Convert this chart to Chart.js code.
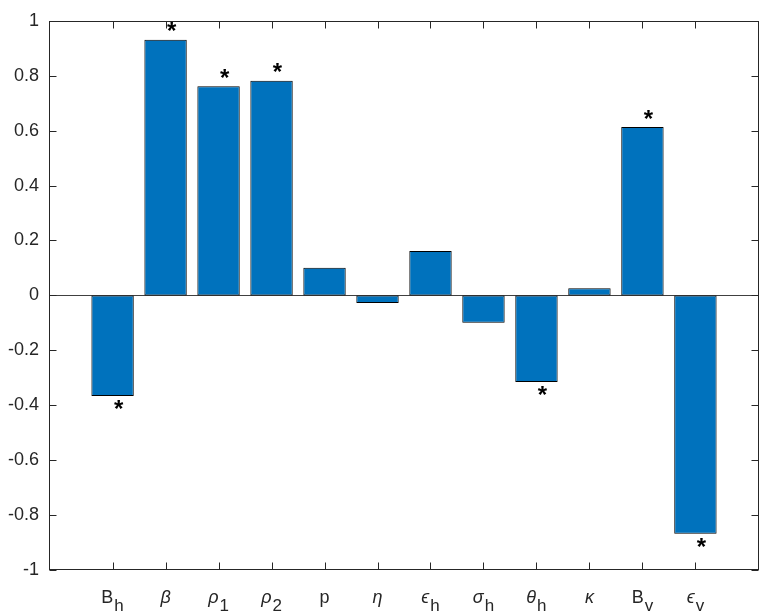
<!DOCTYPE html>
<html><head><meta charset="utf-8">
<script src="https://cdn.jsdelivr.net/npm/chart.js@4"></script>
<style>html,body{margin:0;padding:0;background:#fff}#wrap{width:762px;height:615px;position:relative}</style>
</head><body><div id="wrap"><canvas id="c"></canvas></div>
<script>
const labelMain = ['B','β','ρ','ρ','p','η','ϵ','σ','θ','κ','B','ϵ'];
const labelSub = ['h','','1','2','','','h','h','h','','v','v'];
const labelItalic = [false,true,true,true,false,true,true,true,true,true,false,true];
const values = [-0.366,0.931,0.762,0.782,0.101,-0.028,0.162,-0.100,-0.315,0.026,0.613,-0.868];
const significant = [true,true,true,true,false,false,false,false,true,false,true,true];
const yMin = -1, yMax = 1, yStep = 0.2;

const AX = '#262626';
const FONT = "'Liberation Sans', Arial, Helvetica, sans-serif";

const decor = {
  id: 'decor',
  beforeDatasetsDraw(chart) {
    const {ctx, chartArea: a, scales: {y}} = chart;
    const y0 = Math.round(y.getPixelForValue(0)) + 0.5;
    ctx.save();
    ctx.strokeStyle = '#404040';
    ctx.lineWidth = 1;
    ctx.beginPath(); ctx.moveTo(a.left, y0); ctx.lineTo(a.right, y0); ctx.stroke();
    ctx.restore();
  },
  afterDraw(chart) {
    const {ctx, chartArea: a, scales: {x, y}} = chart;
    ctx.save();
    const L = Math.round(a.left) + 0.5, R = Math.round(a.right) - 0.5;
    const T = Math.round(a.top) + 0.5, B = Math.round(a.bottom) - 0.5;
    ctx.strokeStyle = AX; ctx.lineWidth = 1;
    ctx.strokeRect(L, T, R - L, B - T);
    const tl = 7;
    ctx.beginPath();
    y.ticks.forEach(t => {
      const py = Math.round(y.getPixelForValue(t.value)) + 0.5;
      ctx.moveTo(L, py); ctx.lineTo(L + tl, py);
      ctx.moveTo(R, py); ctx.lineTo(R - tl, py);
    });
    labelMain.forEach((m, i) => {
      const px = Math.round(x.getPixelForValue(i + 1)) + 0.5;
      ctx.moveTo(px, B); ctx.lineTo(px, B - tl);
      ctx.moveTo(px, T); ctx.lineTo(px, T + tl);
    });
    ctx.stroke();

    // x labels with subscripts
    ctx.fillStyle = AX;
    ctx.textBaseline = 'alphabetic';
    ctx.textAlign = 'left';
    const mainY = 603, subY = 611;
    labelMain.forEach((m, i) => {
      const px = x.getPixelForValue(i + 1);
      const fMain = (labelItalic[i] ? 'italic ' : '') + '18px ' + FONT;
      const fSub = '17px ' + FONT;
      ctx.font = fMain; const wm = ctx.measureText(m).width;
      ctx.font = fSub; const ws = labelSub[i] ? ctx.measureText(labelSub[i]).width + 1 : 0;
      const sx = px - (wm + ws) / 2;
      ctx.font = fMain; ctx.fillText(m, sx, mainY);
      if (labelSub[i]) { ctx.font = fSub; ctx.fillText(labelSub[i], sx + wm + 1, subY); }
    });

    // significance stars
    ctx.fillStyle = '#000';
    ctx.font = 'bold 24px ' + FONT;
    ctx.textAlign = 'center';
    const mm = ctx.measureText('*');
    const asc = mm.actualBoundingBoxAscent, desc = mm.actualBoundingBoxDescent;
    values.forEach((v, i) => {
      if (!significant[i]) return;
      const px = x.getPixelForValue(i + 1) + 6;
      const py = y.getPixelForValue(v) + (v >= 0 ? -13 : 9);
      ctx.fillText('*', px, py + (asc - desc) / 2);
    });
    ctx.restore();
  }
};

new Chart(document.getElementById('c'), {
  type: 'bar',
  data: {
    datasets: [{
      data: values.map((v, i) => ({x: i + 1, y: v})),
      backgroundColor: '#0072BD',
      borderColor: '#000000',
      borderWidth: 1,
      borderSkipped: false,
      barPercentage: 0.8,
      categoryPercentage: 1.0
    }]
  },
  options: {
    responsive: true,
    maintainAspectRatio: false,
    animation: false,
    devicePixelRatio: 1,
    layout: {padding: {top: 9, right: 3, left: 0, bottom: 0}},
    plugins: {legend: {display: false}, tooltip: {enabled: false}},
    scales: {
      x: {
        type: 'linear', min: -0.2, max: 13.2, offset: false,
        ticks: {display: false},
        grid: {display: false, drawTicks: false},
        border: {display: false},
        afterFit(s) { s.height = 45; }
      },
      y: {
        min: yMin, max: yMax,
        ticks: {stepSize: yStep, color: AX, font: {family: FONT, size: 18}, padding: 10,
          callback: v => String(+(+v).toFixed(1))},
        grid: {display: false, drawTicks: false},
        border: {display: false},
        afterFit(s) { s.width = 49; }
      }
    }
  },
  plugins: [decor]
});
</script></body></html>
